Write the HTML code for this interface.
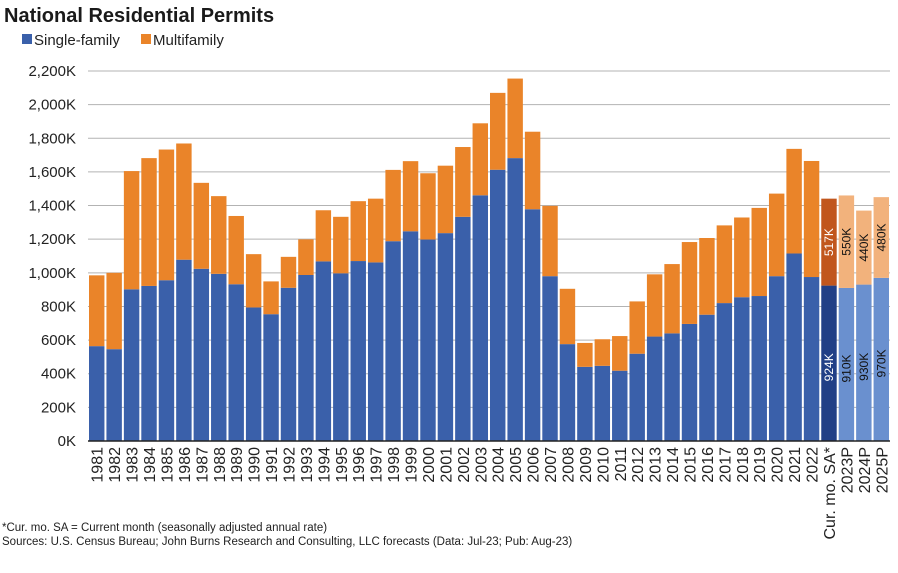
<!DOCTYPE html>
<html><head><meta charset="utf-8"><style>
body{margin:0;background:#fff;font-family:"Liberation Sans",Arial,sans-serif}
</style></head><body>
<svg id="c" width="898" height="568" xmlns="http://www.w3.org/2000/svg">
<text x="4" y="22" font-size="20" font-weight="bold" fill="#1a1a1a">National Residential Permits</text>
<g>
<rect x="22" y="34" width="10" height="10" fill="#3a60aa"/>
<text x="34" y="45" font-size="15" fill="#222">Single-family</text>
<rect x="141" y="34" width="10" height="10" fill="#ea8429"/>
<text x="153" y="45" font-size="15" fill="#222">Multifamily</text>
</g>
<g id="grid"></g><g id="bars"></g><g id="xl"></g>
<text x="2" y="531" font-size="11.5" fill="#222">*Cur. mo. SA = Current month (seasonally adjusted annual rate)</text>
<text x="2" y="545" font-size="11.5" fill="#222">Sources: U.S. Census Bureau; John Burns Research and Consulting, LLC forecasts (Data: Jul-23; Pub: Aug-23)</text>
</svg>
<script>
const categories=["1981","1982","1983","1984","1985","1986","1987","1988","1989","1990","1991","1992","1993","1994","1995","1996","1997","1998","1999","2000","2001","2002","2003","2004","2005","2006","2007","2008","2009","2010","2011","2012","2013","2014","2015","2016","2017","2018","2019","2020","2021","2022","Cur. mo. SA*","2023P","2024P","2025P"];
const singleFamily=[564,546,902,922,956,1078,1024,994,932,794,754,911,987,1068,997,1070,1062,1188,1247,1198,1236,1333,1461,1613,1682,1378,980,576,441,447,418,519,621,640,696,751,820,855,862,980,1115,975,924,910,930,970];
const multiFamily=[421,454,703,760,777,691,511,462,406,317,195,184,212,304,336,356,379,424,417,394,401,415,428,457,473,461,418,329,142,158,206,311,370,412,487,456,462,474,524,491,622,690,517,550,440,480];
const labeled=[false,false,false,false,false,false,false,false,false,false,false,false,false,false,false,false,false,false,false,false,false,false,false,false,false,false,false,false,false,false,false,false,false,false,false,false,false,false,false,false,false,false,true,true,true,true];
const yTicks=[0,200,400,600,800,1000,1200,1400,1600,1800,2000,2200];
const yTickLabels=["0K","200K","400K","600K","800K","1,000K","1,200K","1,400K","1,600K","1,800K","2,000K","2,200K"];
const NS="http://www.w3.org/2000/svg";
const x0=88,x1=890,y0=441,y1=71,ymax=2200;
const slot=(x1-x0)/categories.length;
const y=v=>y0-(v/ymax)*(y0-y1);
const xs=i=>x0+i*slot;
function mk(t,a,p){const e=document.createElementNS(NS,t);for(const k in a)e.setAttribute(k,a[k]);p.appendChild(e);return e;}
const grid=document.getElementById('grid');
yTicks.forEach((t,i)=>{
 if(t>0){const l=mk('line',{x1:x0,x2:x1,y1:y(t),y2:y(t),stroke:'#b3b3b3','stroke-width':1},grid);
 
 }
 const tx=mk('text',{x:76,y:y(t)+5,'font-size':15,'text-anchor':'end',fill:'#222'},grid);
 tx.textContent=yTickLabels[i];
 
 
});
const bars=document.getElementById('bars'),xl=document.getElementById('xl');
categories.forEach((c,i)=>{
 const bx=xs(i)+1,bw=slot-2;
 let sc='#3a60aa',mc='#ea8429',tc='#111';
 if(i===42){sc='#213f86';mc='#c1561d';tc='#fff';}
 else if(i>42){sc='#6a90cf';mc='#f2b27c';}
 const s=mk('rect',{x:bx,y:y(singleFamily[i]),width:bw,height:y0-y(singleFamily[i]),fill:sc},bars);
 
 
 const m=mk('rect',{x:bx,y:y(singleFamily[i]+multiFamily[i]),width:bw,height:y(singleFamily[i])-y(singleFamily[i]+multiFamily[i]),fill:mc},bars);
 
 
 if(labeled[i]){
  const cx=bx+bw/2+4;
  const yl1=(y(singleFamily[i])+y0)/2+4;
  const t1=mk('text',{x:cx,y:yl1,'font-size':12,'text-anchor':'middle',fill:tc,transform:`rotate(-90 ${cx} ${yl1})`},bars);
  t1.textContent=singleFamily[i]+'K';
  
  
  const yl2=(y(singleFamily[i])+y(singleFamily[i]+multiFamily[i]))/2;
  const t2=mk('text',{x:cx,y:yl2,'font-size':12,'text-anchor':'middle',fill:tc,transform:`rotate(-90 ${cx} ${yl2})`},bars);
  t2.textContent=multiFamily[i]+'K';
  
  
 }
 const lx=xs(i)+slot/2+6,ly=447;
 const t=mk('text',{x:lx,y:ly,'font-size':16,'text-anchor':'end',fill:'#222',transform:`rotate(-90 ${lx} ${ly})`},xl);
 t.textContent=c;
 
 
});
const ax=mk('line',{x1:x0,x2:x1,y1:y0,y2:y0,stroke:'#222','stroke-width':1.5},grid.parentNode);


</script>
</body></html>
